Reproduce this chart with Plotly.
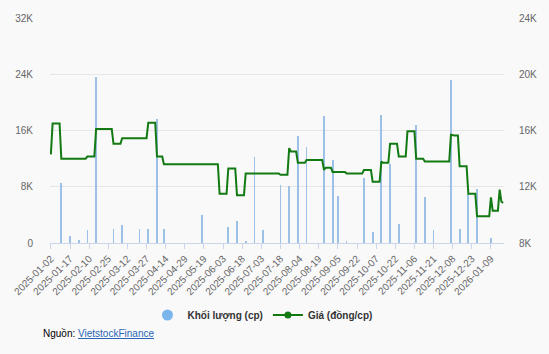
import pandas as pd
import plotly.graph_objects as go

# Trading calendar (HOSE) from 2025-01-02 to 2026-01-20
holidays = ["2025-01-01", "2025-01-27", "2025-01-28", "2025-01-29", "2025-01-30",
            "2025-01-31", "2025-04-07", "2025-04-30", "2025-05-01", "2025-05-02",
            "2025-09-01", "2025-09-02", "2026-01-01", "2026-01-02"]
days = pd.bdate_range("2025-01-02", "2026-01-20")
dates = [d.strftime("%Y-%m-%d") for d in days if d.strftime("%Y-%m-%d") not in holidays]

# Giá (đồng/cp), one value per trading day
price = [
    14300, 16500, 16500, 16500, 16500, 16500, 14000, 14000, 14000, 14000, 14000,
    14000, 14000, 14000, 14000, 14000, 14000, 14000, 14000, 14000, 14000, 14150,
    14150, 14150, 14150, 14150, 16100, 16100, 16100, 16100, 16100, 16100, 16100,
    16100, 16100, 16100, 15050, 15050, 15050, 15050, 15050, 15450, 15450, 15450,
    15450, 15450, 15450, 15450, 15450, 15450, 15450, 15450, 15450, 15450, 15450,
    15450, 16550, 16550, 16550, 16550, 16550, 14150, 14150, 14150, 14150, 13600,
    13600, 13600, 13600, 13600, 13600, 13600, 13600, 13600, 13600, 13600, 13600,
    13600, 13600, 13600, 13600, 13600, 13600, 13600, 13600, 13600, 13600, 13600,
    13600, 13600, 13600, 13600, 13600, 13600, 13600, 13600, 13600, 11500, 11500,
    11500, 11500, 11500, 13300, 13300, 13300, 13300, 13300, 11400, 11400, 11400,
    11400, 11400, 12950, 12950, 12950, 12950, 12950, 12950, 12950, 12950, 12950,
    12950, 12950, 12950, 12950, 12950, 12950, 12950, 12950, 12950, 12950, 12950,
    12850, 12850, 12850, 12850, 12850, 14750, 14500, 14500, 14500, 14500, 13700,
    13700, 13700, 13700, 13700, 13900, 13900, 13900, 13900, 13900, 13900, 13900,
    13900, 13900, 13900, 13200, 13350, 13350, 13350, 13350, 13050, 13050, 13050,
    13050, 13050, 13050, 13050, 13050, 12950, 12950, 12950, 12950, 12950, 12950,
    12950, 12950, 12950, 12950, 13200, 13200, 13200, 13200, 13200, 12350, 12350,
    12350, 12350, 12350, 13800, 13700, 13700, 13700, 13700, 15050, 15050, 15050,
    15050, 15050, 14150, 14150, 14150, 14150, 14150, 15950, 15950, 15950, 15950,
    15950, 14000, 14000, 14000, 14000, 14000, 13800, 13800, 13800, 13800, 13800,
    13800, 13800, 13800, 13800, 13800, 13800, 13800, 13800, 13800, 13800, 15700,
    15650, 15650, 15650, 15650, 13450, 13450, 13450, 13450, 13450, 11500, 11500,
    11500, 11500, 11500, 9900, 9900, 9900, 9900, 9900, 9900, 9900, 9900,
    11250, 10300, 10300, 10300, 10300, 11800, 10950, 10850,
]

# Khối lượng (cp), one value per trading day
volume = [
    0, 0, 0, 0, 0, 0, 8500, 0, 0, 0, 0,
    1000, 0, 0, 0, 0, 400, 0, 0, 0, 0, 1900,
    0, 0, 0, 0, 23600, 0, 0, 0, 0, 0, 0,
    0, 0, 0, 2050, 0, 0, 0, 0, 2600, 0, 0,
    0, 0, 0, 0, 0, 0, 0, 2050, 0, 0, 0,
    0, 1950, 0, 0, 0, 0, 17600, 0, 0, 0, 1950,
    0, 0, 0, 0, 0, 0, 0, 0, 0, 0, 0,
    0, 0, 0, 0, 0, 0, 0, 0, 0, 0, 4050,
    0, 0, 0, 0, 0, 0, 0, 0, 0, 0, 0,
    0, 0, 0, 2250, 0, 0, 0, 0, 3100, 0, 0,
    0, 0, 300, 0, 0, 0, 0, 12200, 0, 0, 0,
    0, 1800, 0, 0, 0, 0, 0, 0, 0, 0, 0,
    8200, 0, 0, 0, 0, 8150, 0, 0, 0, 0, 15250,
    0, 0, 0, 0, 13700, 0, 0, 0, 0, 0, 0,
    0, 0, 0, 18000, 0, 0, 0, 0, 11750, 0, 0,
    6750, 0, 0, 0, 0, 200, 0, 0, 0, 0, 0,
    0, 0, 0, 0, 9300, 0, 0, 0, 0, 1550, 0,
    0, 0, 0, 18250, 0, 0, 0, 0, 11200, 0, 0,
    0, 0, 2650, 0, 0, 0, 0, 0, 0, 0, 0,
    0, 16750, 0, 0, 0, 0, 6500, 0, 0, 0, 0,
    1800, 0, 0, 0, 0, 0, 0, 0, 0, 0, 23150,
    0, 0, 0, 0, 1950, 0, 0, 0, 0, 7000, 0,
    0, 0, 0, 7700, 0, 0, 0, 0, 0, 0, 0,
    750, 0, 0, 0, 0, 0, 0, 0,
]

assert len(dates) == len(price) == len(volume)

tick_dates = dates[::11]
left_ticks = [0, 8000, 16000, 24000, 32000]
left_labels = ["0", "8K", "16K", "24K", "32K"]
right_ticks = [8000, 12000, 16000, 20000, 24000]
right_labels = ["8K", "12K", "16K", "20K", "24K"]

FONT = "Liberation Sans, Arial, sans-serif"
BLUE = "#7cb5ec"
BAR = "#9cc0e6"
GREEN = "#137a13"
BG = "#f9f9fa"

fig = go.Figure()
fig.add_trace(go.Bar(x=dates, y=volume, width=0.45, marker=dict(color=BAR, line=dict(width=0)),
                     showlegend=False, yaxis="y"))
fig.add_trace(go.Scatter(x=dates, y=price, mode="lines", line=dict(color=GREEN, width=2),
                         showlegend=False, yaxis="y2"))
# legend entries
fig.add_trace(go.Scatter(x=[None], y=[None], mode="markers", name="<b>Khối lượng (cp)</b>",
                         marker=dict(color=BLUE, size=11, symbol="circle")))
fig.add_trace(go.Scatter(x=[None], y=[None], mode="lines+markers", name="<b>Giá (đồng/cp)</b>",
                         line=dict(color=GREEN, width=2), marker=dict(color=GREEN, size=7),
                         yaxis="y2"))

fig.update_layout(
    width=549, height=354,
    margin=dict(l=44, r=44, t=12, b=111),
    paper_bgcolor=BG, plot_bgcolor=BG,
    font=dict(family=FONT, size=10, color="#666666"),
    bargap=0,
    xaxis=dict(type="category", range=[-0.5, len(dates) - 0.5],
               tickmode="array", tickvals=tick_dates, ticktext=tick_dates,
               tickangle=-45, tickfont=dict(size=10, color="#666666"),
               showline=True, linecolor="#ccd6eb", linewidth=1,
               ticks="outside", ticklen=5, tickcolor="#ccd6eb",
               showgrid=False, zeroline=False),
    yaxis=dict(range=[0, 32000], tickvals=left_ticks, ticktext=left_labels,
               showgrid=True, gridcolor="#e6e6e6", gridwidth=1, zeroline=False,
               ticklabelstandoff=16, tickfont=dict(size=10, color="#666666")),
    yaxis2=dict(range=[8000, 24000], tickvals=right_ticks, ticktext=right_labels,
                overlaying="y", side="right", showgrid=False, zeroline=False,
                ticklabelstandoff=14, tickfont=dict(size=10, color="#666666")),
    legend=dict(orientation="h", x=0.468, xanchor="center", y=-0.32, yanchor="middle",
                font=dict(size=10, color="#333333", family=FONT),
                bgcolor="rgba(0,0,0,0)", itemwidth=30),
    annotations=[dict(
        xref="paper", yref="paper", x=-0.02, y=-0.402, xanchor="left", yanchor="middle",
        showarrow=False, align="left",
        font=dict(size=10, color="#000000", family=FONT),
        text="Nguồn: <a href='https://finance.vietstock.vn' style='color:#2a66b5;text-decoration:underline'>VietstockFinance</a>",
    )],
)

fig.write_html("out.html")
